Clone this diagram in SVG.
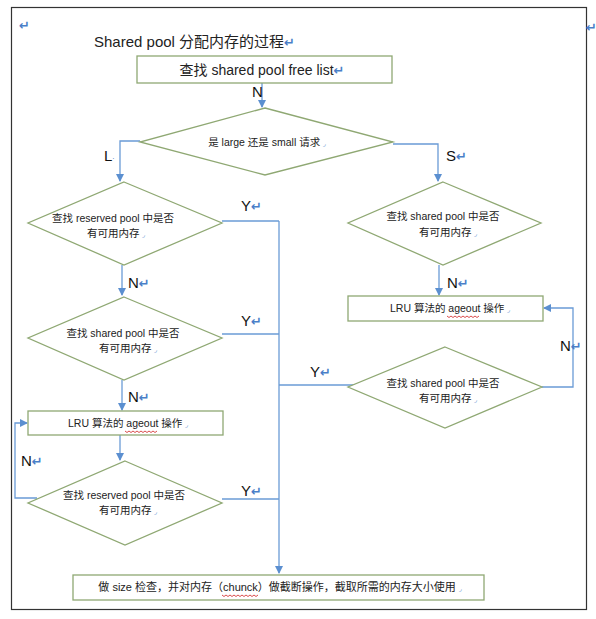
<svg xmlns="http://www.w3.org/2000/svg" width="596" height="619" viewBox="0 0 596 619">
<defs>
<marker id="ah" markerWidth="8" markerHeight="8" refX="7" refY="4" orient="auto" markerUnits="userSpaceOnUse">
<path d="M0,0 L8,4 L0,8 z" fill="#5b8fd0"/>
</marker>
<style>
.shape{fill:#fff;stroke:#8fa873;stroke-width:1.3}
.conn{fill:none;stroke:#6a9bd6;stroke-width:1.3}
.t{font-family:"Liberation Sans","Noto Sans CJK SC",sans-serif;fill:#222}
.s{font-size:10.5px;text-anchor:middle}
.lab{font-size:15px;fill:#111}
.ret{font-family:"DejaVu Sans",sans-serif;fill:#4a7fc8;font-weight:bold;font-size:13px}
.mk{font-family:"DejaVu Sans",sans-serif;fill:#4a7fc8;font-size:7px}
.wavy{fill:none;stroke:#d02020;stroke-width:0.8}
</style>
</defs>
<rect x="0" y="0" width="596" height="619" fill="#fff"/>
<rect x="11.5" y="7.5" width="575" height="602" fill="none" stroke="#333" stroke-width="1.2"/>
<text x="19" y="30" class="ret">↵</text>
<text x="586" y="32" class="ret">↵</text>
<text x="94" y="47" class="t" font-size="15">Shared pool 分配内存的过程<tspan class="ret">↵</tspan></text>

<g id="connectors">
<path class="conn" d="M262,83 V107" marker-end="url(#ah)"/>
<path class="conn" d="M140,141 H120 V181" marker-end="url(#ah)"/>
<path class="conn" d="M393,144 H438 V181" marker-end="url(#ah)"/>
<path class="conn" d="M122,265 V295" marker-end="url(#ah)"/>
<path class="conn" d="M122,380 V410" marker-end="url(#ah)"/>
<path class="conn" d="M120,435 V460" marker-end="url(#ah)"/>
<path class="conn" d="M37,498 H15 V423 H27" marker-end="url(#ah)"/>
<path class="conn" d="M222,221 H279"/>
<path class="conn" d="M222,334 H279"/>
<path class="conn" d="M222,499 H279"/>
<path class="conn" d="M357,385 H279"/>
<path class="conn" d="M279,221 V573" marker-end="url(#ah)"/>
<path class="conn" d="M439,265 V295" marker-end="url(#ah)"/>
<path class="conn" d="M542,387 H573 V308 H544" marker-end="url(#ah)"/>
</g>

<g id="labels">
<text x="252" y="97" class="t lab">N</text>
<text x="104" y="161" class="t lab">L<tspan class="mk">·</tspan></text>
<text x="446" y="161" class="t lab">S<tspan class="ret">↵</tspan></text>
<text x="241" y="211" class="t lab">Y<tspan class="ret">↵</tspan></text>
<text x="128" y="288" class="t lab">N<tspan class="ret">↵</tspan></text>
<text x="241" y="326" class="t lab">Y<tspan class="ret">↵</tspan></text>
<text x="128" y="402" class="t lab">N<tspan class="ret">↵</tspan></text>
<text x="21" y="466" class="t lab">N<tspan class="ret">↵</tspan></text>
<text x="241" y="496" class="t lab">Y<tspan class="ret">↵</tspan></text>
<text x="447" y="288" class="t lab">N<tspan class="ret">↵</tspan></text>
<text x="560" y="351" class="t lab">N<tspan class="ret">↵</tspan></text>
<text x="310" y="377" class="t lab">Y<tspan class="ret">↵</tspan></text>
</g>

<g id="start">
<rect class="shape" x="137" y="56" width="255" height="27"/>
<text x="262" y="75" class="t" font-size="14" text-anchor="middle">查找 shared pool free list<tspan class="ret">↵</tspan></text>
</g>

<g id="d1">
<polygon class="shape" points="265,108 393,142 265,175 140,142"/>
<text x="267" y="146" class="t s">是 large 还是 small 请求 <tspan class="mk">◞</tspan></text>
</g>

<g id="d2">
<polygon class="shape" points="124,182 222,223 124,265 28,223"/>
<text x="113" y="222" class="t s">查找 reserved pool 中是否</text>
<text x="116" y="237" class="t s">有可用内存 <tspan class="mk">◞</tspan></text>
</g>

<g id="d3">
<polygon class="shape" points="124,297 222,338 124,380 28,338"/>
<text x="123" y="337" class="t s">查找 shared pool 中是否</text>
<text x="128" y="352" class="t s">有可用内存 <tspan class="mk">◞</tspan></text>
</g>

<g id="lru1">
<rect class="shape" x="28" y="411" width="195" height="24"/>
<text x="128" y="427" class="t s">LRU 算法的 ageout 操作 <tspan class="mk">◞</tspan></text>
<path class="wavy" d="M125,431 l2,1.5 l2,-1.5 l2,1.5 l2,-1.5 l2,1.5 l2,-1.5 l2,1.5 l2,-1.5 l2,1.5 l2,-1.5 l2,1.5 l2,-1.5 l2,1.5 l2,-1.5 l2,1.5 l2,-1.5"/>
</g>

<g id="d4">
<polygon class="shape" points="125,461 222,503 125,545 28,503"/>
<text x="124" y="499" class="t s">查找 reserved pool 中是否</text>
<text x="128" y="514" class="t s">有可用内存 <tspan class="mk">◞</tspan></text>
</g>

<g id="d5">
<polygon class="shape" points="443,182 541,223 443,265 348,223"/>
<text x="443" y="220" class="t s">查找 shared pool 中是否</text>
<text x="448" y="236" class="t s">有可用内存 <tspan class="mk">◞</tspan></text>
</g>

<g id="lru2">
<rect class="shape" x="348" y="296" width="195" height="25"/>
<text x="450" y="312" class="t s">LRU 算法的 ageout 操作 <tspan class="mk">◞</tspan></text>
<path class="wavy" d="M447,316 l2,1.5 l2,-1.5 l2,1.5 l2,-1.5 l2,1.5 l2,-1.5 l2,1.5 l2,-1.5 l2,1.5 l2,-1.5 l2,1.5 l2,-1.5 l2,1.5 l2,-1.5 l2,1.5 l2,-1.5"/>
</g>

<g id="d6">
<polygon class="shape" points="445,347 542,387 445,428 348,387"/>
<text x="443" y="387" class="t s">查找 shared pool 中是否</text>
<text x="448" y="402" class="t s">有可用内存 <tspan class="mk">◞</tspan></text>
</g>

<g id="end">
<rect class="shape" x="73" y="575" width="411" height="25"/>
<text x="280" y="591" class="t" font-size="11" text-anchor="middle">做 size 检查，并对内存（chunck）做截断操作，截取所需的内存大小使用 <tspan class="mk">◞</tspan></text>
<path class="wavy" d="M222,595 l2,1.5 l2,-1.5 l2,1.5 l2,-1.5 l2,1.5 l2,-1.5 l2,1.5 l2,-1.5 l2,1.5 l2,-1.5 l2,1.5 l2,-1.5 l2,1.5 l2,-1.5 l2,1.5 l2,-1.5 l2,1.5 l2,-1.5"/>
</g>
</svg>
